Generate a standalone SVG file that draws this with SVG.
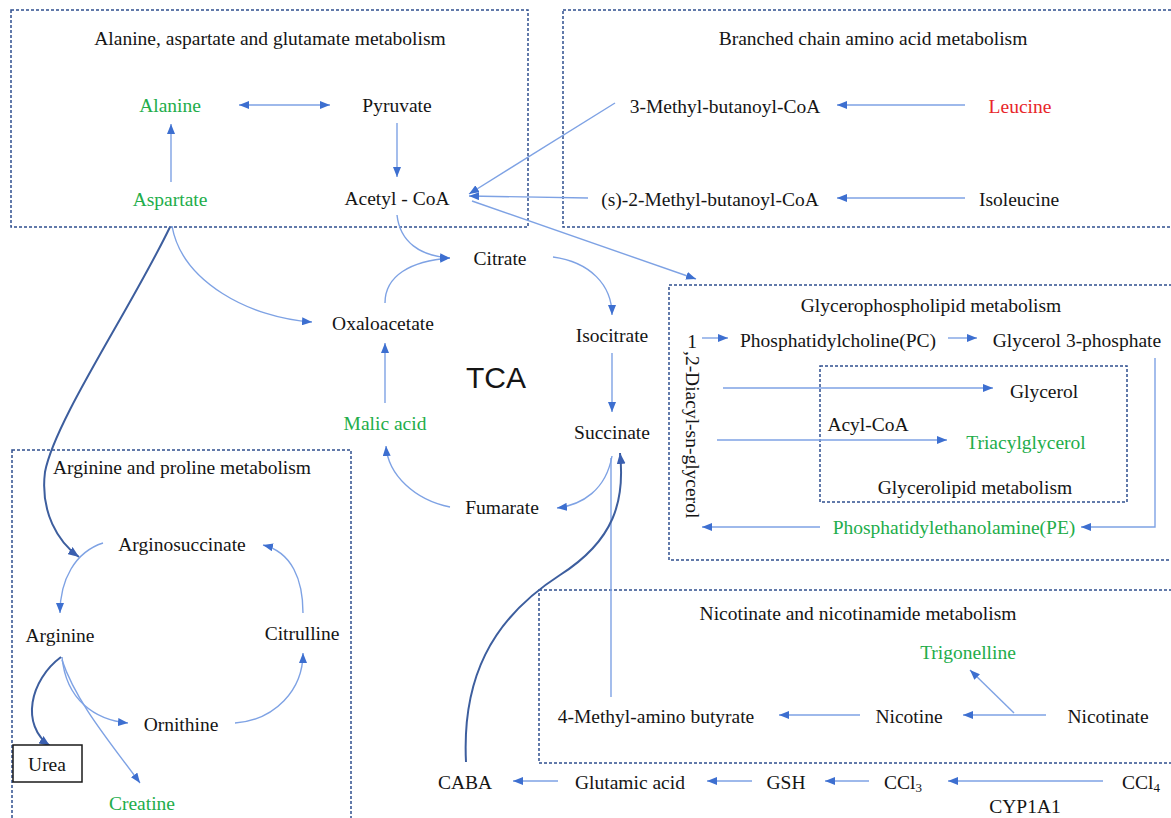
<svg xmlns="http://www.w3.org/2000/svg" width="1171" height="818" viewBox="0 0 1171 818">
<style>
text{font-family:"Liberation Serif","Times New Roman",serif;font-size:19.5px;fill:#151515;dominant-baseline:central;text-anchor:middle}
.g{fill:#22ad4a}
.r{fill:#e8262a}
.box{fill:none;stroke:#2f4f8f;stroke-width:1.5;stroke-dasharray:3 2}
.c{fill:none;stroke:#7ea2e4;stroke-width:1.4}
.d{fill:none;stroke:#3d5e9e;stroke-width:2}
.tca{font-family:"Liberation Sans",Arial,sans-serif;font-size:30px}
</style>
<defs>
<marker id="a" viewBox="0 0 10 8" refX="10" refY="4" markerWidth="10" markerHeight="8" markerUnits="userSpaceOnUse" orient="auto-start-reverse"><path d="M0,0 L10,4 L0,8 z" fill="#3d6fd0"/></marker>
<marker id="ad" viewBox="0 0 10 8" refX="10" refY="4" markerWidth="11" markerHeight="9" markerUnits="userSpaceOnUse" orient="auto"><path d="M0,0 L10,4 L0,8 z" fill="#3a5fb0"/></marker>
</defs>
<rect width="1171" height="818" fill="#fff"/>

<g id="boxes">
<rect id="box-ala" class="box" x="11" y="10" width="517" height="217"/>
<rect id="box-bcaa" class="box" x="563" y="10" width="640" height="217"/>
<rect id="box-gpl" class="box" x="669" y="285" width="540" height="275"/>
<rect id="box-gl" class="box" x="820" y="366" width="307" height="136"/>
<rect id="box-arg" class="box" x="12" y="450" width="339" height="400"/>
<rect id="box-nic" class="box" x="539" y="590" width="660" height="173"/>
</g>

<g id="titles">
<text x="270" y="38">Alanine, aspartate and glutamate metabolism</text>
<text x="873" y="38">Branched chain amino acid metabolism</text>
<text x="931" y="305">Glycerophospholipid metabolism</text>
<text x="975" y="487">Glycerolipid metabolism</text>
<text x="182" y="467">Arginine and proline metabolism</text>
<text x="858" y="613">Nicotinate and nicotinamide metabolism</text>
<text class="tca" x="496" y="377">TCA</text>
</g>

<g id="connectors">
<line class="c" x1="239" y1="105" x2="330" y2="105" marker-start="url(#a)" marker-end="url(#a)"/>
<line class="c" x1="171" y1="182" x2="171" y2="124" marker-end="url(#a)"/>
<line class="c" x1="397" y1="123" x2="397" y2="177" marker-end="url(#a)"/>
<line class="c" x1="615" y1="103" x2="469" y2="194" marker-end="url(#a)"/>
<line class="c" x1="588" y1="198" x2="469" y2="196" marker-end="url(#a)"/>
<line class="c" x1="472" y1="201" x2="696" y2="279" marker-end="url(#a)"/>
<line class="c" x1="965" y1="105" x2="837" y2="105" marker-end="url(#a)"/>
<line class="c" x1="965" y1="198" x2="837" y2="198" marker-end="url(#a)"/>
<path class="c" d="M397,215 C400,242 420,256 450,258" marker-end="url(#a)"/>
<path class="c" d="M385,303 C385,276 410,261 450,258" marker-end="url(#a)"/>
<path class="c" d="M553,257 C590,262 612,285 612,315" marker-end="url(#a)"/>
<line class="c" x1="612" y1="353" x2="612" y2="412" marker-end="url(#a)"/>
<path class="c" d="M612,456 C606,490 582,505 557,508" marker-end="url(#a)"/>
<path class="c" d="M450,507 C415,500 388,475 386,446" marker-end="url(#a)"/>
<line class="c" x1="385" y1="403" x2="385" y2="343" marker-end="url(#a)"/>
<path class="c" d="M172,226 C182,282 250,318 312,322" marker-end="url(#a)"/>
<path class="d" d="M170,227 C130,310 55,420 45,472 C40,512 58,542 79,557" marker-end="url(#ad)"/>
<path class="c" d="M103,543 C75,552 60,580 60,613" marker-end="url(#a)"/>
<path class="c" d="M303,613 C303,580 292,552 263,545" marker-end="url(#a)"/>
<path class="c" d="M235,723 C275,720 303,690 303,653" marker-end="url(#a)"/>
<path class="c" d="M62,657 C66,700 95,720 128,723" marker-end="url(#a)"/>
<path class="c" d="M62,660 C76,702 110,742 140,783" marker-end="url(#a)"/>
<path class="d" d="M61,657 C30,680 20,725 50,746" marker-end="url(#ad)"/>
<line class="c" x1="702" y1="338" x2="728" y2="338" marker-end="url(#a)"/>
<line class="c" x1="948" y1="338" x2="977" y2="338" marker-end="url(#a)"/>
<line class="c" x1="723" y1="388" x2="993" y2="388" marker-end="url(#a)"/>
<line class="c" x1="717" y1="440" x2="947" y2="440" marker-end="url(#a)"/>
<polyline class="c" points="1155,358 1155,527 1081,527" marker-end="url(#a)"/>
<line class="c" x1="820" y1="527" x2="702" y2="527" marker-end="url(#a)"/>
<line class="c" x1="1046" y1="715" x2="963" y2="715" marker-end="url(#a)"/>
<line class="c" x1="1014" y1="713" x2="970" y2="670" marker-end="url(#a)"/>
<line class="c" x1="860" y1="715" x2="779" y2="715" marker-end="url(#a)"/>
<line class="c" x1="611" y1="697" x2="611" y2="458"/>
<line class="c" x1="1103" y1="781" x2="948" y2="781" marker-end="url(#a)"/>
<line class="c" x1="869" y1="781" x2="825" y2="781" marker-end="url(#a)"/>
<line class="c" x1="752" y1="781" x2="707" y2="781" marker-end="url(#a)"/>
<line class="c" x1="558" y1="781" x2="513" y2="781" marker-end="url(#a)"/>
<path class="d" d="M466,762 C462,680 490,620 560,575 C615,540 625,500 620,453" marker-end="url(#ad)"/>
</g>

<g id="n-alanine"><text class="g" x="170" y="105">Alanine</text></g>
<g id="n-pyruvate"><text x="397" y="105">Pyruvate</text></g>
<g id="n-aspartate"><text class="g" x="170" y="199">Aspartate</text></g>
<g id="n-acetylcoa"><text x="397" y="198">Acetyl - CoA</text></g>
<g id="n-3mb"><text x="725" y="106">3-Methyl-butanoyl-CoA</text></g>
<g id="n-leucine"><text class="r" x="1020" y="106">Leucine</text></g>
<g id="n-s2mb"><text x="710" y="199">(s)-2-Methyl-butanoyl-CoA</text></g>
<g id="n-isoleucine"><text x="1019" y="199">Isoleucine</text></g>
<g id="n-citrate"><text x="500" y="258">Citrate</text></g>
<g id="n-oxaloacetate"><text x="383" y="323">Oxaloacetate</text></g>
<g id="n-isocitrate"><text x="612" y="335">Isocitrate</text></g>
<g id="n-malic"><text class="g" x="385" y="423">Malic acid</text></g>
<g id="n-succinate"><text x="612" y="432">Succinate</text></g>
<g id="n-fumarate"><text x="502" y="507">Fumarate</text></g>
<g id="n-diacyl"><text x="692" y="341">1</text><text x="686" y="351" transform="rotate(90 686 351)" style="text-anchor:start;dominant-baseline:alphabetic">,2-Diacyl-sn-glycerol</text></g>
<g id="n-pc"><text x="838" y="340">Phosphatidylcholine(PC)</text></g>
<g id="n-g3p"><text x="1077" y="340">Glycerol 3-phosphate</text></g>
<g id="n-glycerol"><text x="1044" y="391">Glycerol</text></g>
<g id="n-acylcoa"><text x="868" y="424">Acyl-CoA</text></g>
<g id="n-tag"><text class="g" x="1026" y="442">Triacylglycerol</text></g>
<g id="n-pe"><text class="g" x="954" y="527">Phosphatidylethanolamine(PE)</text></g>
<g id="n-arginosuccinate"><text x="182" y="544">Arginosuccinate</text></g>
<g id="n-arginine"><text x="60" y="635">Arginine</text></g>
<g id="n-citrulline"><text x="302" y="633">Citrulline</text></g>
<g id="n-ornithine"><text x="181" y="724">Ornithine</text></g>
<g id="n-urea"><rect x="13" y="745" width="69" height="37" fill="#fff" stroke="#1a1a1a" stroke-width="1.5"/><text x="47" y="764">Urea</text></g>
<g id="n-creatine"><text class="g" x="142" y="803">Creatine</text></g>
<g id="n-trigonelline"><text class="g" x="968" y="652">Trigonelline</text></g>
<g id="n-4mab"><text x="656" y="716">4-Methyl-amino butyrate</text></g>
<g id="n-nicotine"><text x="909" y="716">Nicotine</text></g>
<g id="n-nicotinate"><text x="1108" y="716">Nicotinate</text></g>
<g id="n-caba"><text x="465" y="782">CABA</text></g>
<g id="n-glutamic"><text x="630" y="782">Glutamic acid</text></g>
<g id="n-gsh"><text x="786" y="782">GSH</text></g>
<g id="n-ccl3"><text x="903" y="782">CCl<tspan font-size="13" dy="5">3</tspan></text></g>
<g id="n-ccl4"><text x="1141" y="782">CCl<tspan font-size="13" dy="5">4</tspan></text></g>
<g id="n-cyp"><text x="1025" y="806">CYP1A1</text></g>
</svg>
